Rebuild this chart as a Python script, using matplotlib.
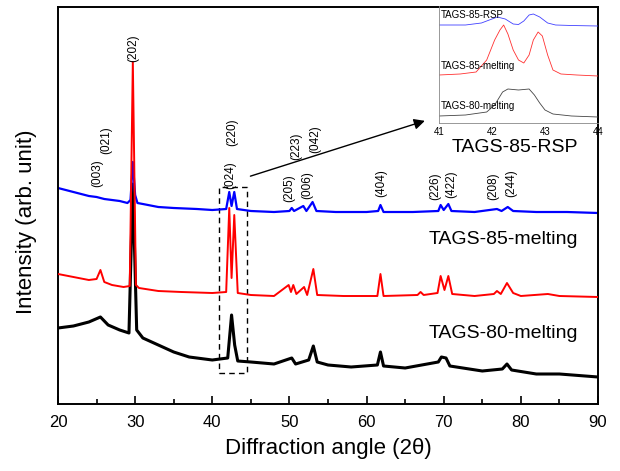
#!/usr/bin/env python3
"""XRD patterns of TAGS samples with an inset of the 41-44 deg region."""

import matplotlib

matplotlib.use("Agg")
import matplotlib.pyplot as plt
from matplotlib.patches import Rectangle

plt.rcParams["font.family"] = ["Liberation Sans", "DejaVu Sans"]

# main traces: 2theta and intensity (arb. unit)
rsp_x = [20, 21, 22, 23, 24, 25, 26, 27, 28, 29, 29.4, 29.7, 30.0, 30.3, 31, 33, 35, 38, 40,
         41.8, 42.2, 42.5, 42.85, 43.2, 45, 48, 50.0, 50.3, 50.6, 51.8, 52.2, 53.0, 53.5, 56, 60,
         61.5, 61.8, 62.2, 66, 69.3, 69.6, 70.0, 70.6, 71.0, 74, 76.9, 77.5, 78.3, 79.0, 82, 86, 90]
rsp_y = [216, 214, 212, 210, 208, 207, 205, 204, 203, 201, 204, 242, 209, 201, 200, 197, 196, 195, 194,
         195, 212, 198, 212, 195, 193, 192, 193, 196, 193, 198, 193, 202, 193, 192, 192,
         193, 199, 192, 192, 193, 199, 194, 200, 193, 192, 195, 193, 197, 193, 192, 192, 191]

m85_x = [20, 22, 24, 25.0, 25.5, 26.0, 27, 28.5, 29.3, 29.7, 30.1, 30.5, 33, 36, 40,
         41.8, 42.2, 42.5, 42.85, 43.3, 45, 48, 49.9, 50.2, 50.5, 50.9, 51.9, 52.3, 53.1, 53.6, 57,
         61.4, 61.8, 62.2, 66.6, 67.0, 67.4, 69.2, 69.6, 70.1, 70.6, 71.1, 74, 76.5, 76.9, 77.4,
         78.2, 79.0, 80, 83.5, 85, 90]
m85_y = [130, 127, 124, 125, 134, 122, 119, 117, 118, 342, 119, 116, 113, 112, 111,
         112, 196, 126, 189, 111, 109, 108, 119, 112, 119, 110, 117, 109, 135, 109, 108,
         108, 130, 108, 109, 112, 109, 111, 128, 114, 128, 110, 108, 110, 113, 110,
         121, 111, 108, 110, 108, 107]

m80_x = [20, 22, 24, 25.5, 26.5, 28, 29.2, 29.7, 30.2, 31, 33, 35, 37, 40,
         42.0, 42.5, 42.9, 43.3, 45, 48, 50.3, 50.8, 52.5, 53.1, 53.6, 55, 58,
         61.4, 61.8, 62.2, 65, 69.3, 69.7, 70.3, 70.8, 75, 77.6, 78.2, 78.8, 82, 85, 90]
m80_y = [76, 78, 82, 87, 79, 74, 71, 220, 74, 66, 59, 52, 47, 44,
         46, 89, 59, 43, 42, 40, 46, 40, 44, 58, 42, 39, 37,
         39, 52, 38, 36, 42, 47, 46, 38, 33, 35, 40, 34, 30, 30, 27]

# inset traces (41-44 deg)
in_rsp_x = [41, 41.5, 41.8, 42.0, 42.1, 42.25, 42.4, 42.5, 42.6, 42.7, 42.78, 42.9, 43.05, 43.2, 43.5, 44]
in_rsp_y = [98, 98, 100, 104, 106, 104, 99, 98.5, 102, 108, 109, 106, 100, 98, 97.5, 97]

in_m85_x = [41, 41.4, 41.7, 41.9, 42.05, 42.15, 42.22, 42.3, 42.4, 42.5, 42.6, 42.7, 42.78,
            42.87, 42.95, 43.05, 43.15, 43.3, 43.6, 44]
in_m85_y = [48, 49, 51, 63, 83, 93, 98, 89, 73, 63, 60, 68, 83, 91, 87, 68, 53, 49, 48, 47]

in_m80_x = [41, 41.5, 41.9, 42.05, 42.2, 42.3, 42.5, 42.7, 42.8, 42.9, 43.0, 43.15, 43.5, 44]
in_m80_y = [7, 8, 11, 18, 31, 34, 33, 34, 28, 20, 13, 9, 7, 6]

# Miller indices: label, 2theta, label centre height
hkl_labels = ["(003)", "(021)", "(202)", "(024)", "(220)", "(205)", "(223)", "(006)",
              "(042)", "(404)", "(226)", "(422)", "(208)", "(244)"]
hkl_x = [25.1, 26.2, 29.7, 42.3, 42.55, 49.95, 50.85, 52.3, 53.3, 61.95, 68.9, 71.0, 76.4, 78.8]
hkl_y = [231, 264, 356, 229, 272, 216, 258, 219, 265, 221, 218, 220, 218, 221]

sample_names = ["TAGS-85-RSP", "TAGS-85-melting", "TAGS-80-melting"]
sample_label_y = [257, 165, 70]
inset_label_y = [108, 57, 17]

fig = plt.figure(figsize=(6.2, 4.71), dpi=100)
ax = fig.add_axes([58 / 620, 67 / 471, 540 / 620, 397 / 471])

ax.plot(m80_x, m80_y, color="black", lw=2.2, zorder=1)
ax.plot(rsp_x, rsp_y, color="blue", lw=1.6, zorder=2)
ax.plot(m85_x, m85_y, color="red", lw=1.4, zorder=3)

for label, x, y in zip(hkl_labels, hkl_x, hkl_y):
    ax.text(x, y, label, rotation=90, ha="center", va="center", fontsize=8.5)

for name, y in zip(sample_names, sample_label_y):
    ax.text(87.4, y, name, ha="right", va="center", fontsize=14)

ax.add_patch(Rectangle((40.85, 31), 3.6, 186, fill=False, ls=(0, (4, 3)), lw=1.0, color="black"))
ax.annotate("", xy=(67.9, 284), xytext=(44.6, 227),
            arrowprops=dict(arrowstyle="-|>", color="black", lw=1.0, mutation_scale=16))

ax.set_xlim(20, 90)
ax.set_ylim(0, 397)
ax.set_xticks([20, 30, 40, 50, 60, 70, 80, 90])
ax.set_xticks([25, 35, 45, 55, 65, 75, 85], minor=True)
ax.set_yticks([])
ax.tick_params(axis="x", which="major", direction="in", length=6, width=1.2, labelsize=12, pad=8)
ax.tick_params(axis="x", which="minor", direction="in", length=3.5, width=1.2)
ax.tick_params(top=False, right=False)
for spine in ax.spines.values():
    spine.set_linewidth(1.4)
ax.set_xlabel("Diffraction angle (2\u03b8)", fontsize=16, labelpad=6)
ax.set_ylabel("Intensity (arb. unit)", fontsize=16)
ax.yaxis.set_label_coords(-0.038, 0.46)

inset = fig.add_axes([439 / 620, 348 / 471, 159 / 620, 117 / 471])
inset.patch.set_alpha(0)
inset.plot(in_m80_x, in_m80_y, color="#444444", lw=0.6)
inset.plot(in_m85_x, in_m85_y, color="#ff3030", lw=0.6)
inset.plot(in_rsp_x, in_rsp_y, color="#4040ff", lw=0.6)
for name, y in zip(sample_names, inset_label_y):
    inset.text(41.03, y, name, ha="left", va="center", fontsize=7)
inset.set_xlim(41, 44)
inset.set_ylim(0, 117)
inset.set_xticks([41, 42, 43, 44])
inset.set_yticks([])
inset.tick_params(length=0, labelsize=7, pad=3)
for spine in inset.spines.values():
    spine.set_linewidth(0.6)
    spine.set_color("#888888")
inset.spines["top"].set_visible(False)
inset.spines["right"].set_visible(False)

fig.savefig("out.png", dpi=100)
